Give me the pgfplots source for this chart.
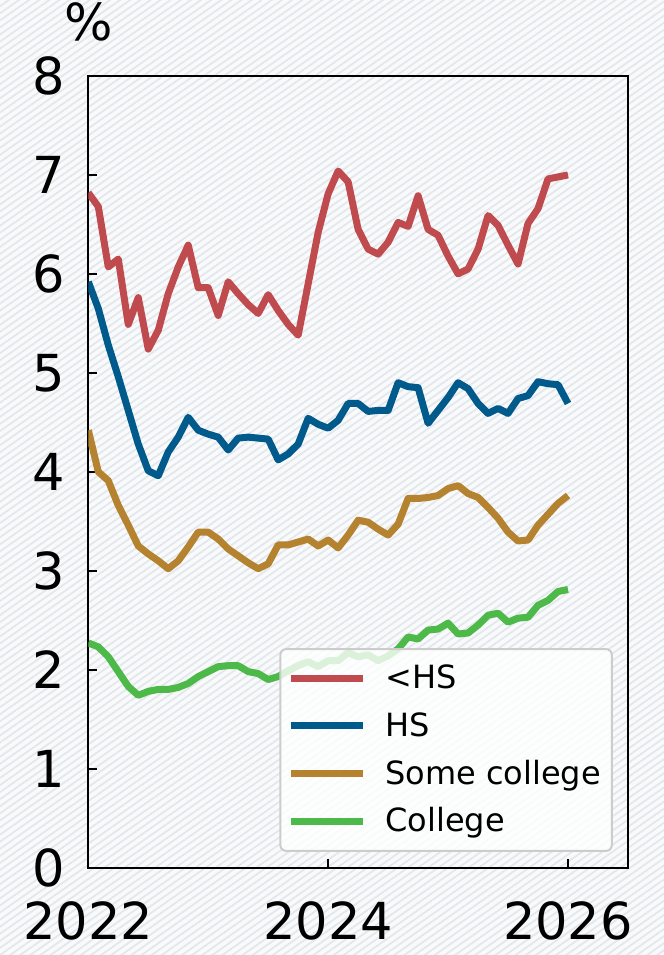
\documentclass[border=0pt]{standalone}
\usepackage{fontspec}
\setmainfont{DejaVu Sans}
\usepackage{pgfplots}
\usepackage{pgfplotstable}
\pgfplotsset{compat=1.18}
\usetikzlibrary{patterns.meta}
\definecolor{cRed}{RGB}{191,75,78}
\definecolor{cBlue}{RGB}{0,90,140}
\definecolor{cGold}{RGB}{181,131,47}
\definecolor{cGreen}{RGB}{76,185,72}
\definecolor{bgBase}{RGB}{249,250,251}
\definecolor{bgLine}{RGB}{228,231,235}

\pgfplotstableread{
m lhs hs sc col
0 6.82 5.92 4.42 2.27
1 6.68 5.65 4.00 2.23
2 6.07 5.28 3.91 2.13
3 6.15 4.96 3.66 1.98
4 5.49 4.62 3.46 1.83
5 5.76 4.28 3.25 1.74
6 5.24 4.01 3.17 1.78
7 5.43 3.96 3.10 1.80
8 5.80 4.20 3.02 1.80
9 6.07 4.35 3.10 1.82
10 6.29 4.55 3.24 1.86
11 5.86 4.42 3.39 1.93
12 5.86 4.38 3.39 1.98
13 5.58 4.35 3.32 2.03
14 5.92 4.22 3.22 2.04
15 5.80 4.34 3.15 2.04
16 5.69 4.35 3.08 1.98
17 5.60 4.34 3.02 1.96
18 5.79 4.33 3.07 1.90
19 5.63 4.12 3.26 1.93
20 5.49 4.18 3.26 1.99
21 5.38 4.28 3.29 2.04
22 5.90 4.54 3.32 2.08
23 6.42 4.48 3.25 2.03
24 6.81 4.44 3.31 2.09
25 7.04 4.52 3.23 2.09
26 6.93 4.69 3.36 2.17
27 6.45 4.69 3.51 2.13
28 6.25 4.61 3.49 2.15
29 6.20 4.62 3.42 2.09
30 6.32 4.62 3.36 2.14
31 6.52 4.90 3.47 2.21
32 6.48 4.86 3.73 2.33
33 6.79 4.85 3.73 2.31
34 6.45 4.49 3.74 2.40
35 6.39 4.62 3.76 2.41
36 6.18 4.75 3.83 2.47
37 6.00 4.90 3.86 2.36
38 6.05 4.84 3.78 2.37
39 6.25 4.69 3.74 2.45
40 6.59 4.59 3.64 2.55
41 6.49 4.64 3.53 2.57
42 6.29 4.59 3.39 2.48
43 6.10 4.74 3.30 2.52
44 6.51 4.77 3.31 2.53
45 6.66 4.91 3.46 2.65
46 6.96 4.89 3.57 2.70
47 6.98 4.88 3.68 2.79
48 7.00 4.69 3.76 2.81
}\datatable

\begin{document}
\begin{tikzpicture}
\fill[bgBase] (-44.15pt,-43.75pt) rectangle (287.85pt,433.75pt);
\fill[pattern={Lines[angle=35,distance=2.9pt,line width=0.9pt]}, pattern color=bgLine] (-44.15pt,-43.75pt) rectangle (287.85pt,433.75pt);
\begin{axis}[
  name=ax,
  at={(0pt,0pt)}, anchor=south west,
  scale only axis, width=269.85pt, height=395.75pt,
  xmin=0, xmax=54, ymin=0, ymax=8,
  xtick={0,24,48}, xticklabels={2022,2024,2026},
  ytick={0,1,2,3,4,5,6,7,8},
  tick align=inside, tick pos=left,
  major tick length=4.5pt,
  axis line style={line width=1pt, black},
  every tick/.style={black, line width=1pt},
  ticklabel style={font=\fontsize{25.5}{30}\selectfont},
  /pgf/number format/assume math mode=true,
  yticklabel style={xshift=-8pt},
  xticklabel style={yshift=-13.75pt},
  every axis plot/.append style={line width=3.5pt, line join=round},
  legend image code/.code={\draw[#1] (0pt,0pt) -- (36pt,0pt);},
  legend cell align=left,
  legend style={at={(rel axis cs:0.972,0.0196)}, anchor=south east,
    fill=white, fill opacity=0.8, text opacity=1, draw opacity=1,
    draw=black!20, line width=1pt, rounded corners=3pt,
    font=\fontsize{16}{19}\selectfont, inner xsep=3.5pt, inner ysep=6pt,
    row sep=6.3pt,
    /tikz/every odd column/.append style={column sep=7.5pt}},
]
\addplot[cRed] table[x=m, y=lhs] {\datatable};
\addlegendentry{<HS}
\addplot[cBlue] table[x=m, y=hs] {\datatable};
\addlegendentry{HS}
\addplot[cGold] table[x=m, y=sc] {\datatable};
\addlegendentry{Some college}
\addplot[cGreen] table[x=m, y=col] {\datatable};
\addlegendentry{College}
\end{axis}
\node[anchor=base, font=\fontsize{25.5}{30}\selectfont, inner sep=0pt] at ([yshift=18pt]ax.north west) {\%};
\pgfresetboundingbox
\path[use as bounding box] (-44.15pt,-43.75pt) rectangle (287.85pt,433.75pt);
\end{tikzpicture}
\end{document}
